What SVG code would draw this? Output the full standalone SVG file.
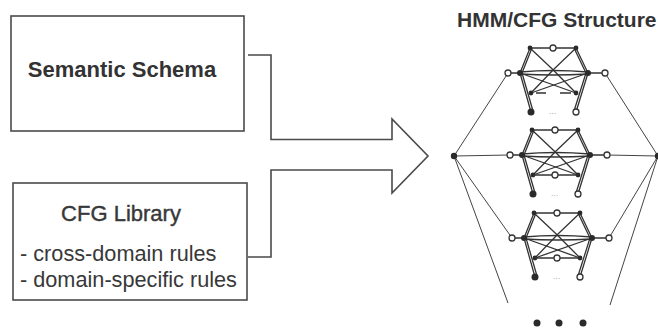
<svg xmlns="http://www.w3.org/2000/svg" width="658" height="329" viewBox="0 0 658 329">
  <style>
    .box { fill: #fff; stroke: #4a4a4a; stroke-width: 1.6; }
    .arrow { fill: none; stroke: #4a4a4a; stroke-width: 1.6; stroke-linejoin: miter; }
    .title { font-family: "Liberation Sans", Arial, sans-serif; font-weight: bold; fill: #333; }
    .label { font-family: "Liberation Sans", Arial, sans-serif; fill: #383838; }
    .edge { fill: none; stroke: #333; stroke-width: 1.3; }
    .outer { fill: none; stroke: #444; stroke-width: 1; }
    .open { fill: #fff; stroke: #333; stroke-width: 1.3; }
    .dot { fill: #2a2a2a; }
    .ell { font-family: "Liberation Sans", Arial, sans-serif; font-size: 7px; letter-spacing: 0.5px; fill: #777; }
  </style>
  <defs>
    <!-- one HMM sub-network; origin = centre of its middle row -->
    <g id="module">
      <g class="edge">
        <path d="M-23,-25 L23,-25"/>
        <path d="M-23,-25 L-33,0 M-21,-25 L-31,0"/>
        <path d="M23,-25 L35,0 M21,-25 L33,0"/>
        <path d="M-23,-25 Q0,-4 23,20"/>
        <path d="M23,-25 Q0,-4 -22,20"/>
        <path d="M-33,-1 Q0,-4 35,-1"/>
        <path d="M-33,1 Q0,3 35,1"/>
        <path d="M-33,0 L23,20"/>
        <path d="M35,0 L-22,20"/>
        <path d="M-33,0 L-22,39 M-31,0 L-20,38"/>
        <path d="M35,0 L23,39 M33,0 L21,38"/>
        <path d="M-45,0 L-33,0 M35,0 L52,0"/>
      </g>
      <circle class="dot" cx="-23" cy="-25" r="2.4"/>
      <circle class="dot" cx="23" cy="-25" r="2.4"/>
      <circle class="open" cx="0" cy="-25" r="3"/>
      <circle class="dot" cx="-33" cy="0" r="3"/>
      <circle class="dot" cx="35" cy="0" r="3"/>
      <circle class="open" cx="-45" cy="0" r="3"/>
      <circle class="open" cx="52" cy="0" r="3"/>
      <circle class="dot" cx="-22" cy="20" r="2.4"/>
      <circle class="dot" cx="23" cy="20" r="2.4"/>
      <circle class="dot" cx="-22" cy="39" r="3.5"/>
      <circle class="open" cx="23" cy="39" r="3"/>
      <text class="ell" x="0" y="41" text-anchor="middle">...</text>
    </g>
    <!-- lower row link with its middle state -->
    <g id="lowerLink">
      <path class="edge" d="M-22,20 L23,20"/>
      <circle class="open" cx="0" cy="20" r="3"/>
    </g>
  </defs>

  <!-- input blocks -->
  <g id="semantic-schema">
    <rect class="box" x="11" y="16" width="233" height="115"/>
    <text class="title" x="122" y="77" font-size="22" text-anchor="middle">Semantic Schema</text>
  </g>

  <g id="cfg-library">
    <rect class="box" x="13" y="183" width="234" height="117"/>
    <text class="label" x="121" y="221" font-size="22" text-anchor="middle" stroke="#383838" stroke-width="0.4">CFG Library</text>
    <text class="label" x="20" y="261" font-size="21.7">- cross-domain rules</text>
    <text class="label" x="20" y="287" font-size="21.7">- domain-specific rules</text>
  </g>

  <!-- merging block arrow -->
  <g id="connectors">
    <path class="arrow" d="M248,55 H271 V139.5 H392 V119 L428,156 L392,193 V170 H271 V257 H248"/>
  </g>

  <!-- HMM/CFG structure -->
  <g id="hmm-cfg-structure">
    <text class="title" x="457" y="27" font-size="21">HMM/CFG Structure</text>

    <g id="outer-links" class="outer">
      <path d="M454,156 L508,73"/>
      <path d="M454,156 L510,155"/>
      <path d="M454,156 L512,238"/>
      <path d="M454,156 L508,303"/>
      <path d="M605,73 L658,156"/>
      <path d="M607,155 L658,156"/>
      <path d="M609,238 L658,156"/>
      <path d="M610,305 L658,156"/>
    </g>

    <g id="module-1">
      <use href="#module" transform="translate(553,73)"/>
      <path class="edge" d="M536,93 H546 M560,93 H571"/>
    </g>
    <g id="module-2">
      <use href="#module" transform="translate(555,155)"/>
      <use href="#lowerLink" transform="translate(555,155)"/>
    </g>
    <g id="module-3">
      <use href="#module" transform="translate(557,238)"/>
      <use href="#lowerLink" transform="translate(557,238)"/>
    </g>

    <g id="hub-in"><circle class="dot" cx="454" cy="156" r="3.2"/></g>
    <g id="hub-out"><circle class="dot" cx="658" cy="156" r="3.2"/></g>

    <g id="more">
      <circle class="dot" cx="537" cy="323" r="3.5"/>
      <circle class="dot" cx="559" cy="323" r="3.5"/>
      <circle class="dot" cx="583" cy="323" r="3.5"/>
    </g>
  </g>
</svg>
